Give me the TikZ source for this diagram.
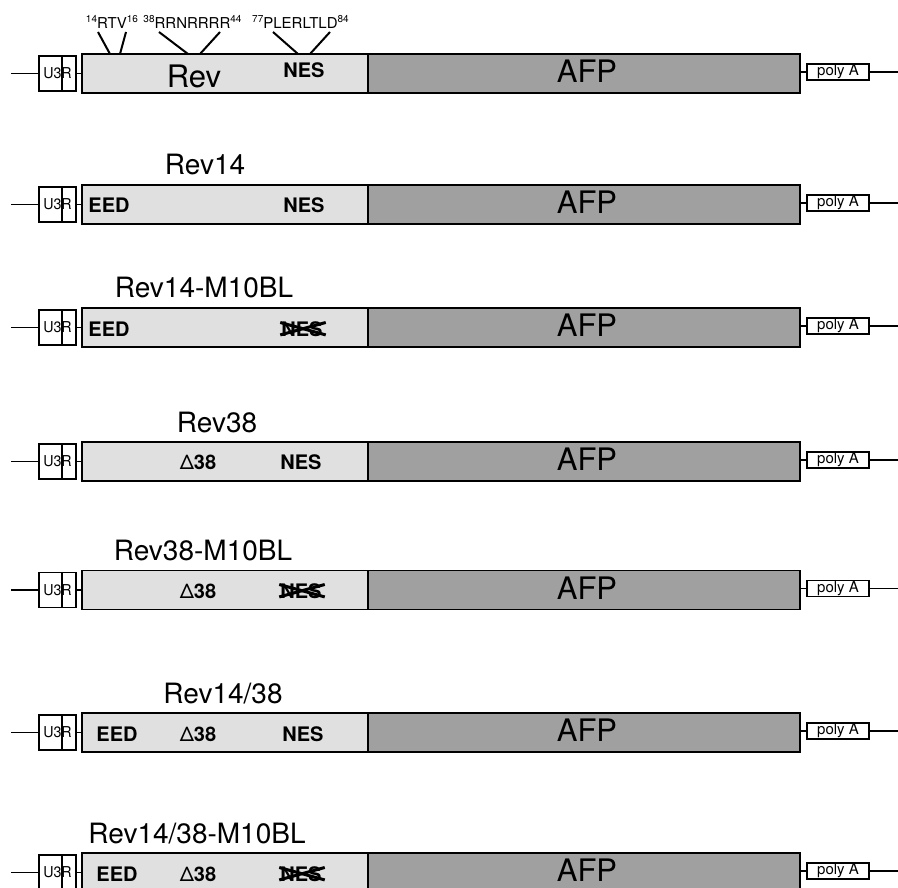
\documentclass[tikz,border=0pt]{standalone}
\usepackage{fontspec}
\setmainfont{TeX Gyre Heros}
\definecolor{revgray}{HTML}{E0E0E0}
\definecolor{afpgray}{HTML}{A0A0A0}
\newcommand\supnum[1]{\raisebox{6pt}{\fontsize{10}{10}\selectfont #1}}
\newcommand\construct[2]{%
  \coordinate (s#1) at (11,#2);
  \node[ltrbox] (l#1) at (57.5,#2) {};
  \draw[wire] ([xshift=4.5pt]l#1.north) -- ([xshift=4.5pt]l#1.south);
  \node[ltrtext] (u#1) at (57.5,#2) {U3R};
  \node[revbox] (r#1) at (225,#2) {};
  \node[afpbox] (a#1) at (584,#2) {};
  \node[big, anchor=base] (f#1) at (587,#2+9) {AFP};
  \node[pabox] (p#1) at (838,#2-1.5) {poly A};
  \coordinate (e#1) at (898,#2-1.5);
  \draw[wire] (s#1) -- (l#1);
  \draw[wire] (l#1) -- (r#1);
  \draw[wire] (a#1.east |- p#1.west) -- (p#1.west);
  \draw[wire] (p#1) -- (e#1);
}
\newcommand\crossnes[3]{%
  \node[lab, inner sep=0pt] (#1) at (#2,#3) {NES};
  \draw[xline] ([shift={(-1pt,-1.5pt)}]#1.north west) -- ([shift={(3pt,1.5pt)}]#1.south east);
  \draw[xline] ([shift={(-1pt,1.5pt)}]#1.south west) -- ([shift={(3pt,-1.5pt)}]#1.north east);
}
\begin{document}
\begin{tikzpicture}[x=1pt,y=-1pt,
  bar/.style={draw, line width=1.6pt, inner sep=0pt, minimum height=39pt},
  revbox/.style={bar, fill=revgray, minimum width=286pt},
  afpbox/.style={bar, fill=afpgray, minimum width=432pt},
  ltrbox/.style={draw, line width=1.2pt, minimum width=37pt, minimum height=35pt, inner sep=0pt},
  ltrtext/.style={inner sep=0pt, font=\fontsize{15}{15}\selectfont, xscale=0.95},
  pabox/.style={draw, line width=1.2pt, minimum width=62pt, minimum height=16pt, inner sep=0pt, font=\fontsize{15}{15}\selectfont},
  wire/.style={line width=1.2pt},
  ann/.style={line width=2pt},
  xline/.style={line width=3pt},
  title/.style={font=\fontsize{28}{28}\selectfont, anchor=base, inner sep=0pt},
  lab/.style={font=\bfseries\fontsize{20}{20}\selectfont, anchor=base, inner sep=0pt},
  big/.style={font=\fontsize{31}{31}\selectfont, inner sep=0pt},
  sup/.style={font=\fontsize{15}{15}\selectfont, anchor=base, inner sep=0pt},
]
\useasboundingbox (0,0) rectangle (898,888);
\clip (0,0) rectangle (898,888);

% Row 1: Rev
\construct{1}{73.5}
\node[big, anchor=base] (rev1) at (194,88) {Rev};
\node[lab] (nes1) at (304,78) {NES};
\node[sup] (m1) at (112,29) {\supnum{14}RTV\supnum{16}};
\node[sup] (m2) at (192.5,29) {\supnum{38}RRNRRRR\supnum{44}};
\node[sup] (m3) at (300.5,29) {\supnum{77}PLERLTLD\supnum{84}};
\coordinate (t1a) at (98,32);  \coordinate (b1a) at (110,54);
\coordinate (t1b) at (126,32); \coordinate (b1b) at (120,54);
\coordinate (t2a) at (159,32); \coordinate (b2a) at (188,54);
\coordinate (t2b) at (220,32); \coordinate (b2b) at (200,54);
\coordinate (t3a) at (273,32); \coordinate (b3a) at (298,54);
\coordinate (t3b) at (330,32); \coordinate (b3b) at (310,54);
\draw[ann] (t1a) -- (b1a);
\draw[ann] (t1b) -- (b1b);
\draw[ann] (t2a) -- (b2a);
\draw[ann] (t2b) -- (b2b);
\draw[ann] (t3a) -- (b3a);
\draw[ann] (t3b) -- (b3b);

% Row 2: Rev14
\construct{2}{204.5}
\node[title] (ti2) at (205,175) {Rev14};
\node[lab] (eed2) at (109,213) {EED};
\node[lab] (nes2) at (304,213) {NES};

% Row 3: Rev14-M10BL
\construct{3}{327.5}
\node[title] (ti3) at (204,298) {Rev14-M10BL};
\node[lab] (eed3) at (109,336) {EED};
\crossnes{nes3}{302}{336}

% Row 4: Rev38
\construct{4}{461.5}
\node[title] (ti4) at (217,432) {Rev38};
\node[lab] (d4) at (198,469) {{\mdseries Δ}38};
\node[lab] (nes4) at (301,469) {NES};

% Row 5: Rev38-M10BL
\construct{5}{590}
\node[title] (ti5) at (203,560) {Rev38-M10BL};
\node[lab] (d5) at (198,598) {{\mdseries Δ}38};
\crossnes{nes5}{301}{598}

% Row 6: Rev14/38
\construct{6}{732.5}
\node[title] (ti6) at (223,703) {Rev14/38};
\node[lab] (eed6) at (117,741) {EED};
\node[lab] (d6) at (198,741) {{\mdseries Δ}38};
\node[lab] (nes6) at (303,741) {NES};

% Row 7: Rev14/38-M10BL
\construct{7}{872.5}
\node[title] (ti7) at (197,843) {Rev14/38-M10BL};
\node[lab] (eed7) at (117,881) {EED};
\node[lab] (d7) at (198,881) {{\mdseries Δ}38};
\crossnes{nes7}{301}{881}
\end{tikzpicture}
\end{document}
